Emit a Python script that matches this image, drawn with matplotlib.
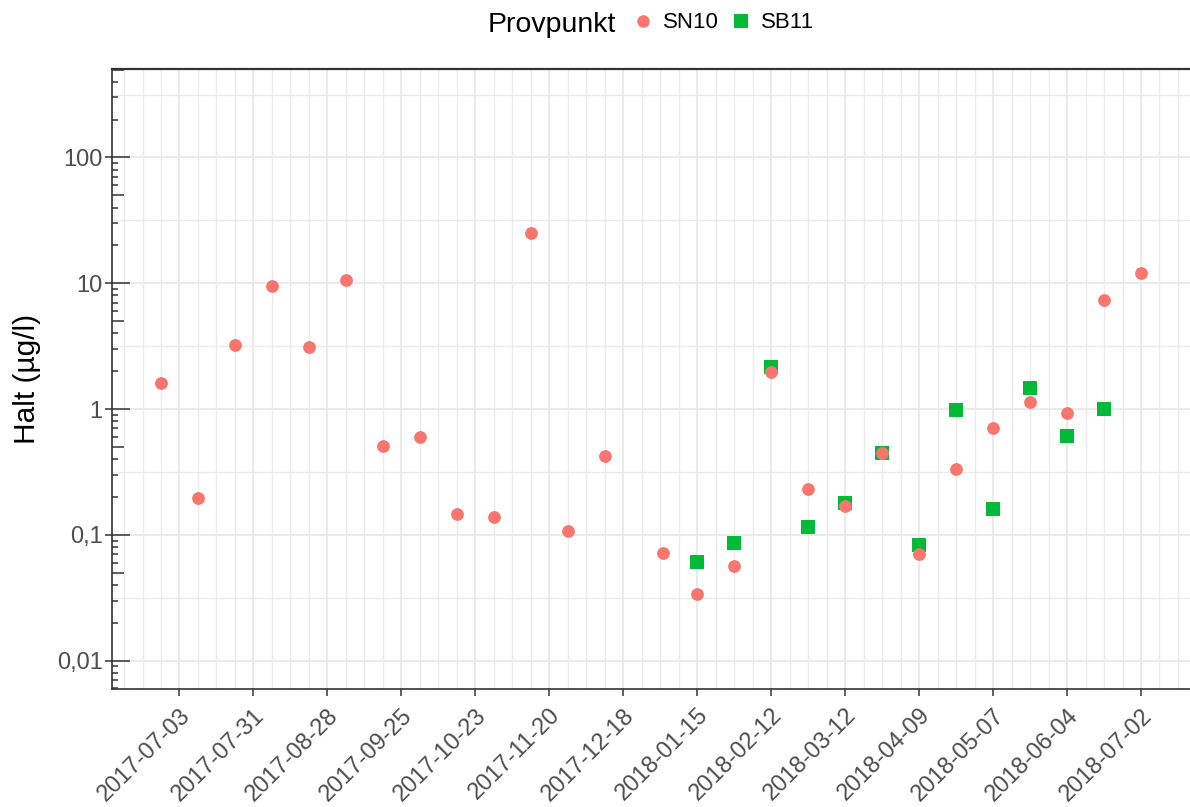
import numpy as np
import pandas as pd
import matplotlib
matplotlib.use("Agg")
import matplotlib.pyplot as plt
import matplotlib.dates as mdates
from matplotlib.ticker import FixedLocator, FuncFormatter
from matplotlib.lines import Line2D

plt.rcParams['font.family'] = ['Liberation Sans', 'DejaVu Sans']

# data
sn10_dates = ["2017-06-26", "2017-07-10", "2017-07-24", "2017-08-07", "2017-08-21",
              "2017-09-04", "2017-09-18", "2017-10-02", "2017-10-16", "2017-10-30",
              "2017-11-13", "2017-11-27", "2017-12-11", "2018-01-02", "2018-01-15",
              "2018-01-29", "2018-02-12", "2018-02-26", "2018-03-12", "2018-03-26",
              "2018-04-09", "2018-04-23", "2018-05-07", "2018-05-21", "2018-06-04",
              "2018-06-18", "2018-07-02"]
sn10_values = [1.61, 0.195, 3.23, 9.5, 3.1,
               10.6, 0.51, 0.60, 0.146, 0.138,
               25.2, 0.107, 0.42, 0.071, 0.0336,
               0.056, 1.97, 0.23, 0.169, 0.443,
               0.0697, 0.332, 0.708, 1.14, 0.927,
               7.37, 12.1]

sb11_dates = ["2018-01-15", "2018-01-29", "2018-02-12", "2018-02-26", "2018-03-12",
              "2018-03-26", "2018-04-09", "2018-04-23", "2018-05-07", "2018-05-21",
              "2018-06-04", "2018-06-18"]
sb11_values = [0.061, 0.086, 2.14, 0.115, 0.18,
               0.45, 0.083, 0.99, 0.16, 1.46,
               0.61, 1.0]

y_limits = (0.01, 300)
x_break_start = "2017-07-03"

col_sn10 = "#F8766D"
col_sb11 = "#00BA38"
grid_col = "#EBEBEB"
axis_col = "#333333"
text_col = "#4D4D4D"

sn10_dates = pd.to_datetime(sn10_dates)
sb11_dates = pd.to_datetime(sb11_dates)

W, H = 1190, 807
fig = plt.figure(figsize=(W / 100, H / 100), dpi=100)
ax = fig.add_axes([112 / W, 1 - 688.7 / H, 1 - 112 / W, (688.7 - 69.3) / H])

ax.plot(sb11_dates, sb11_values, "s", color=col_sb11, ms=10, mew=0, zorder=3)
ax.plot(sn10_dates, sn10_values, "o", color=col_sn10, ms=9.2, mew=0, zorder=4)

ax.set_yscale("log")
lo, hi = np.log10(y_limits)
pad = 0.05 * (hi - lo)
ax.set_ylim(10 ** (lo - pad), 10 ** (hi + pad))

all_dates = sn10_dates.append(sb11_dates)
dmin, dmax = mdates.date2num(all_dates.min()), mdates.date2num(all_dates.max())
span = dmax - dmin
ax.set_xlim(dmin - 0.05 * span, dmax + 0.05 * span)

# x breaks every 4 weeks, minor every week
majors = pd.date_range(x_break_start, all_dates.max(), freq="28D")
minors = pd.date_range(pd.Timestamp(x_break_start) - pd.Timedelta(days=28),
                       all_dates.max() + pd.Timedelta(days=28), freq="7D")
ax.xaxis.set_major_locator(FixedLocator(mdates.date2num(majors)))
ax.xaxis.set_minor_locator(FixedLocator(mdates.date2num(minors)))
ax.xaxis.set_major_formatter(mdates.DateFormatter("%Y-%m-%d"))

decades = 10.0 ** np.arange(-3, 4)
mids = 10.0 ** (np.arange(-3, 3) + 0.5)
ax.yaxis.set_major_locator(FixedLocator(decades))
ax.yaxis.set_minor_locator(FixedLocator(mids))
ax.yaxis.set_major_formatter(FuncFormatter(lambda v, p: f"{v:g}".replace(".", ",")))

ax.grid(True, which="major", color=grid_col, lw=1.4, zorder=0)
ax.grid(True, which="minor", color=grid_col, lw=1.0, zorder=0)
ax.set_axisbelow(True)

ax.tick_params(axis="both", which="major", direction="out", length=5.2, width=1.1,
               color=axis_col, labelcolor=text_col, labelsize=17)
ax.tick_params(axis="x", which="minor", length=0)
ax.tick_params(axis="y", which="minor", length=0)
ax.tick_params(axis="y", which="major", pad=1.5)
ax.tick_params(axis="x", which="major", pad=6)
for lab in ax.get_xticklabels():
    lab.set_rotation(45)
    lab.set_ha("right")
    lab.set_va("top")
    lab.set_rotation_mode("anchor")

for side in ["left", "bottom", "top"]:
    ax.spines[side].set_color(axis_col)
    ax.spines[side].set_linewidth(1.2)
ax.spines["top"].set_linewidth(1.6)
ax.spines["right"].set_visible(False)

# log ticks drawn inside the left axis
ax_w = W - 112
trans = ax.get_yaxis_transform()
for d in decades:
    for m in range(1, 10):
        v = m * d
        if m == 1:
            L = 18
        elif m == 5:
            L = 12
        else:
            L = 6
        ax.plot([0, L / ax_w], [v, v], color=axis_col, lw=1.1, transform=trans,
                solid_capstyle="butt", zorder=5)

fig.text(27 / W, 1 - 379 / H, "Halt (µg/l)", rotation=90, ha="center", va="center",
         fontsize=21.5, color="black")

fig.text(488 / W, 1 - 31.5 / H, "Provpunkt", ha="left", va="baseline",
         fontsize=20.5, color="black")
handles = [Line2D([], [], ls="", marker="o", color=col_sn10, ms=9, mew=0),
           Line2D([], [], ls="", marker="s", color=col_sb11, ms=10, mew=0)]
fig.legend(handles, ["SN10", "SB11"], loc="center left",
           bbox_to_anchor=(634 / W, 1 - 23 / H), ncol=2, frameon=False,
           fontsize=16, handlelength=0.8, handletextpad=0.5, columnspacing=0.6,
           borderpad=0, borderaxespad=0)

fig.savefig("out.png", dpi=100)
